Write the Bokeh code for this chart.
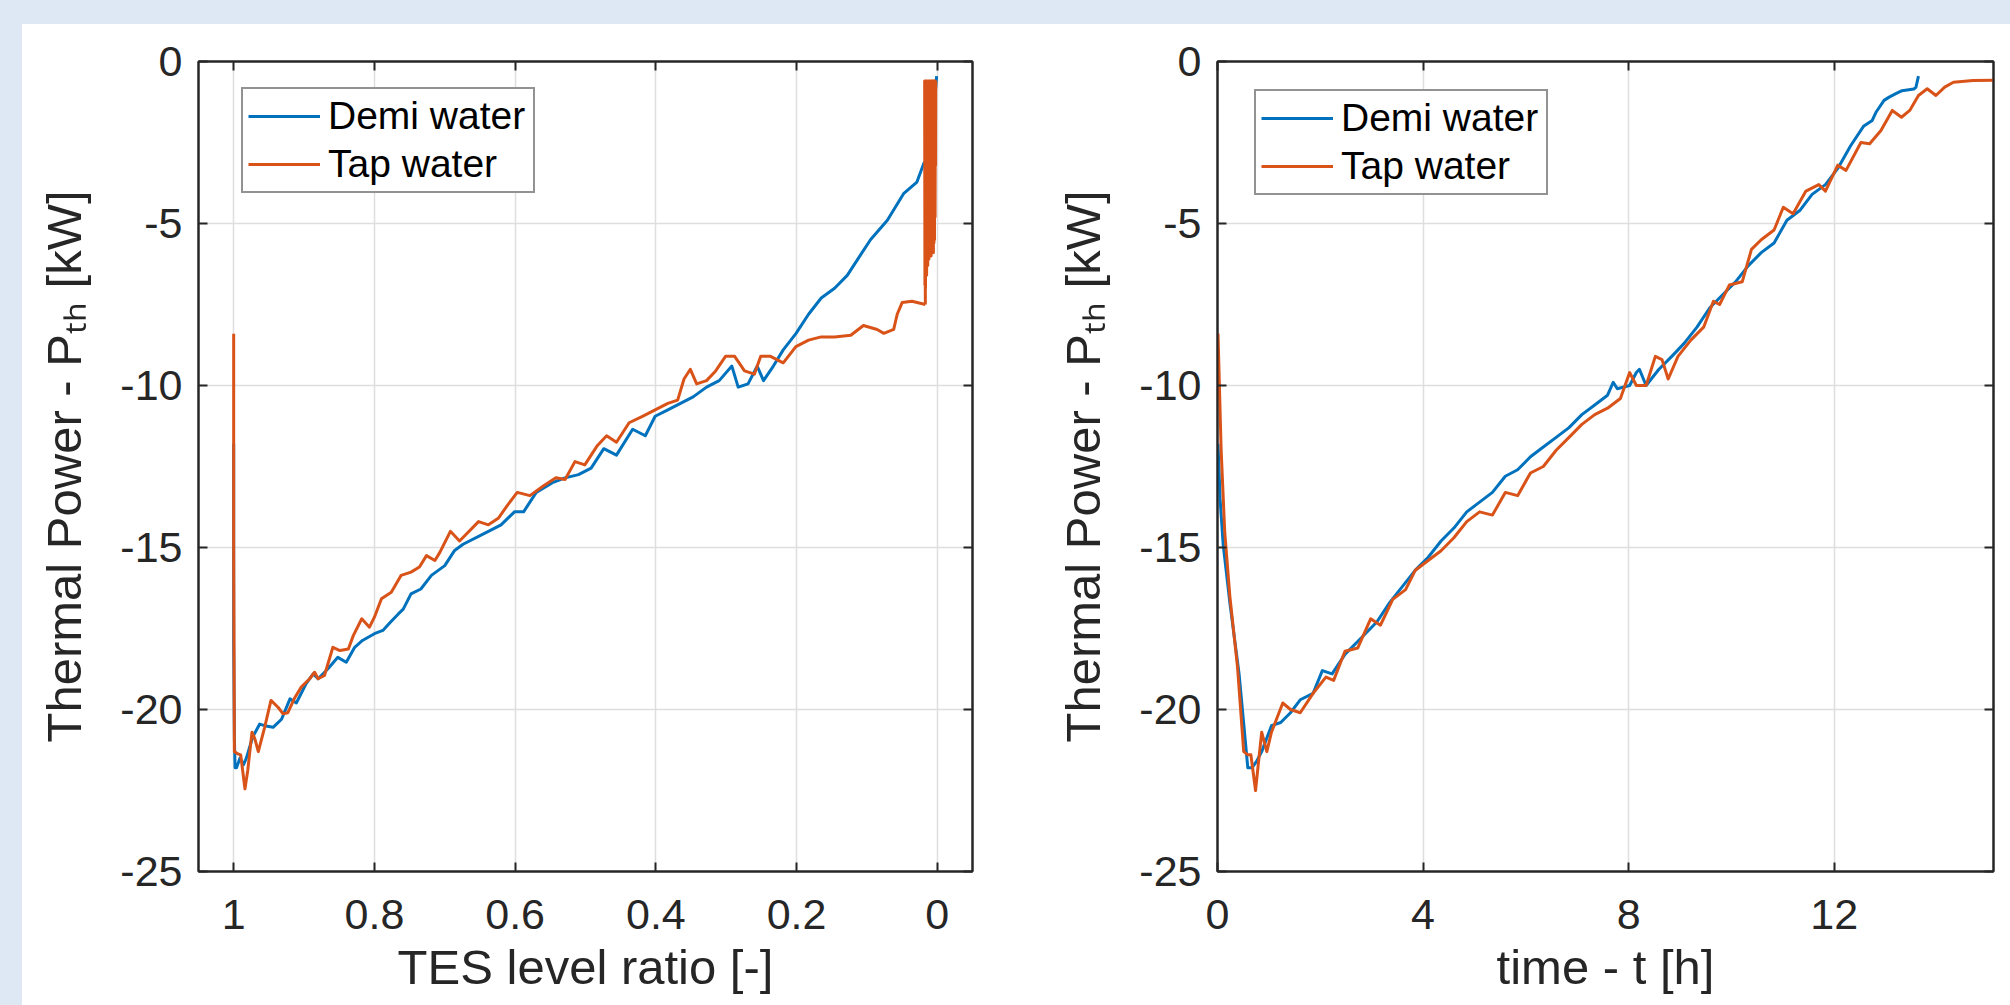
from bokeh.plotting import figure
from bokeh.models import (Range1d, FixedTicker, LinearAxis, CustomJSTickFormatter,
                          Legend, LegendItem, GlobalInlineStyleSheet)
from bokeh.layouts import row
from bokeh.embed import file_html
from bokeh.resources import INLINE

# ---------------- data ----------------
# Left panel: thermal power vs TES level ratio
demi_ratio = [1.000, 1.000, 0.999, 0.998, 0.996, 0.991, 0.986, 0.982, 0.973, 0.963, 0.956, 0.944,
              0.932, 0.920, 0.911, 0.897, 0.887, 0.880, 0.866, 0.852, 0.840, 0.828, 0.817, 0.800,
              0.788, 0.777, 0.766, 0.759, 0.748, 0.734, 0.719, 0.700, 0.686, 0.674, 0.638, 0.620,
              0.601, 0.588, 0.570, 0.547, 0.529, 0.510, 0.492, 0.474, 0.456, 0.433, 0.415, 0.401,
              0.383, 0.365, 0.347, 0.328, 0.310, 0.292, 0.283, 0.269, 0.256, 0.247, 0.233, 0.219,
              0.201, 0.183, 0.165, 0.146, 0.128, 0.110, 0.095, 0.071, 0.048, 0.029, 0.019, 0.010,
              0.004, 0.003, 0.001]
demi_power_l = [-11.8, -17.9, -20.9, -21.8, -21.8, -21.5, -21.7, -21.5, -20.85, -20.45, -20.5, -20.55,
                -20.3, -19.67, -19.8, -19.2, -18.9, -19.05, -18.74, -18.39, -18.54, -18.08, -17.87, -17.66,
                -17.56, -17.3, -17.05, -16.9, -16.43, -16.28, -15.86, -15.56, -15.09, -14.9, -14.5, -14.3,
                -13.9, -13.9, -13.3, -13.0, -12.85, -12.75, -12.55, -11.95, -12.15, -11.35, -11.55, -10.95,
                -10.75, -10.55, -10.35, -10.05, -9.85, -9.4, -10.05, -9.95, -9.4, -9.85, -9.4, -8.9,
                -8.4, -7.8, -7.3, -7.0, -6.6, -6.0, -5.5, -4.9, -4.08, -3.72, -3.13, -3.0,
                -2.0, -1.0, -0.45]

tap_ratio = [1.000, 1.000, 0.999, 0.994, 0.990, 0.984, 0.980, 0.974, 0.970, 0.965, 0.956, 0.947,
             0.937, 0.930, 0.923, 0.914, 0.904, 0.892, 0.885, 0.880, 0.871, 0.859, 0.849, 0.837,
             0.830, 0.818, 0.807, 0.800, 0.790, 0.776, 0.762, 0.748, 0.736, 0.726, 0.714, 0.707,
             0.692, 0.679, 0.652, 0.638, 0.624, 0.611, 0.597, 0.579, 0.560, 0.542, 0.529, 0.515,
             0.501, 0.483, 0.470, 0.456, 0.438, 0.419, 0.401, 0.383, 0.369, 0.360, 0.351, 0.342,
             0.328, 0.315, 0.301, 0.288, 0.274, 0.260, 0.251, 0.237, 0.219, 0.201, 0.183, 0.165,
             0.146, 0.123, 0.105, 0.0855, 0.076, 0.062, 0.057, 0.050, 0.036, 0.017]
tap_power_l = [-8.4, -15.0, -21.3, -21.37, -21.4, -22.45, -21.88, -20.7, -20.9, -21.3, -20.55, -19.72,
               -19.93, -20.13, -20.1, -19.67, -19.31, -19.05, -18.85, -19.05, -18.95, -18.08, -18.18, -18.13,
               -17.72, -17.2, -17.46, -17.15, -16.58, -16.38, -15.86, -15.76, -15.6, -15.25, -15.4, -15.15,
               -14.5, -14.8, -14.2, -14.3, -14.1, -13.7, -13.3, -13.4, -13.1, -12.85, -12.9, -12.35,
               -12.45, -11.85, -11.55, -11.75, -11.15, -10.95, -10.75, -10.55, -10.45, -9.8, -9.5, -9.95,
               -9.85, -9.55, -9.1, -9.1, -9.55, -9.65, -9.1, -9.1, -9.3, -8.8, -8.6, -8.5,
               -8.5, -8.45, -8.15, -8.27, -8.39, -8.27, -7.8, -7.44, -7.4, -7.5]

# rapidly oscillating end of the tap-water run (level ratio close to zero)
tap_band_ratio = [0.0170, 0.0180, 0.0176, 0.0172, 0.0168, 0.0164, 0.0160, 0.0156, 0.0152, 0.0148,
                  0.0144, 0.0140, 0.0136, 0.0132, 0.0128, 0.0124, 0.0120, 0.0116, 0.0112, 0.0108,
                  0.0104, 0.0100, 0.0096, 0.0092, 0.0088, 0.0084, 0.0080, 0.0076, 0.0072, 0.0068,
                  0.0064, 0.0060, 0.0056, 0.0052, 0.0048, 0.0044, 0.0040, 0.0036, 0.0032, 0.0028,
                  0.0025, 0.0023]
tap_band_power = [-7.5, -0.6, -6.9, -0.6, -7.0, -0.6, -6.2, -0.6, -6.6, -0.6,
                  -6.0, -0.6, -6.3, -0.6, -5.9, -0.6, -6.1, -0.6, -5.8, -0.6,
                  -6.0, -0.6, -5.9, -0.6, -6.0, -0.6, -5.8, -0.6, -5.9, -0.6,
                  -5.7, -0.6, -5.9, -0.6, -5.6, -0.6, -5.5, -0.6, -4.8, -0.6,
                  -3.2, -0.6]

# Right panel: thermal power vs time
demi_time = [0.01, 0.05, 0.11, 0.24, 0.42, 0.59, 0.67, 0.76, 0.86, 1.05, 1.23, 1.42, 1.61, 1.86,
             2.04, 2.23, 2.48, 2.79, 3.10, 3.35, 3.60, 3.85, 4.10, 4.35, 4.60, 4.85, 5.10, 5.35,
             5.60, 5.84, 6.09, 6.34, 6.59, 6.84, 7.09, 7.34, 7.59, 7.70, 7.78, 8.02, 8.15, 8.21,
             8.34, 8.59, 8.84, 9.08, 9.33, 9.58, 9.83, 10.08, 10.33, 10.58, 10.83, 11.08, 11.33,
             11.57, 11.83, 12.07, 12.32, 12.57, 12.74, 12.82, 12.97, 13.07, 13.19, 13.32, 13.55,
             13.59, 13.64]
demi_power_r = [-11.8, -13.5, -14.9, -16.7, -18.9, -21.8, -21.8, -21.6, -21.3, -20.5, -20.4, -20.1,
                -19.7, -19.5, -18.8, -18.9, -18.3, -17.8, -17.3, -16.7, -16.2, -15.7, -15.3, -14.8,
                -14.4, -13.9, -13.6, -13.3, -12.8, -12.6, -12.2, -11.9, -11.6, -11.3, -10.9, -10.6,
                -10.3, -9.9, -10.1, -10.0, -9.6, -9.5, -10.0, -9.5, -9.1, -8.7, -8.2, -7.6,
                -7.2, -6.8, -6.3, -5.9, -5.6, -4.9, -4.6, -4.1, -3.8, -3.3, -2.6, -2.0,
                -1.82, -1.55, -1.2, -1.1, -1.0, -0.9, -0.85, -0.8, -0.45]

tap_time = [0.01, 0.07, 0.14, 0.24, 0.39, 0.51, 0.59, 0.65, 0.74, 0.86, 0.96, 1.05, 1.27, 1.42,
            1.61, 1.86, 2.11, 2.26, 2.48, 2.73, 2.98, 3.17, 3.41, 3.66, 3.85, 4.10, 4.35, 4.60,
            4.85, 5.10, 5.35, 5.60, 5.84, 6.09, 6.34, 6.59, 6.84, 7.09, 7.34, 7.59, 7.84, 8.02,
            8.15, 8.34, 8.52, 8.65, 8.77, 8.96, 9.21, 9.46, 9.65, 9.77, 9.96, 10.21, 10.39, 10.58,
            10.83, 11.01, 11.20, 11.45, 11.70, 11.83, 12.07, 12.23, 12.52, 12.69, 12.91, 13.13,
            13.31, 13.47, 13.64, 13.81, 13.98, 14.15, 14.32, 14.70, 15.10]
tap_power_r = [-8.4, -11.95, -14.5, -16.5, -18.7, -21.3, -21.4, -21.4, -22.5, -20.7, -21.3, -20.7,
               -19.8, -20.0, -20.1, -19.5, -19.0, -19.1, -18.2, -18.1, -17.2, -17.4, -16.6, -16.3,
               -15.7, -15.4, -15.1, -14.7, -14.2, -13.9, -14.0, -13.3, -13.4, -12.7, -12.5, -12.0,
               -11.6, -11.2, -10.9, -10.7, -10.4, -9.6, -10.0, -10.0, -9.1, -9.2, -9.8, -9.1,
               -8.6, -8.2, -7.4, -7.5, -6.9, -6.8, -5.8, -5.5, -5.2, -4.5, -4.7, -4.0,
               -3.8, -4.0, -3.2, -3.36, -2.5, -2.54, -2.13, -1.51, -1.72, -1.51, -1.05, -0.84,
               -1.05, -0.79, -0.64, -0.59, -0.58]

power_ticks = [-25, -20, -15, -10, -5, 0]
ratio_ticks = [1.0, 0.8, 0.6, 0.4, 0.2, 0.0]
time_ticks = [0, 4, 8, 12]

y_title = "Thermal Power - P\u209c\u2095 [kW]"
x_title_left = "TES level ratio [-]"
x_title_right = "time - t [h]"

# ---------------- style ----------------
BLUE = "#0072BD"
ORANGE = "#D95319"
DARK = "#262626"
GRID = "#dedede"
FONT = "Liberation Sans"
TICK_FS = "43px"
TITLE_FS = "49px"
LW = 3

num_fmt = CustomJSTickFormatter(code="return String(Math.round(tick*10)/10)")
blank_fmt = CustomJSTickFormatter(code="return ''")


def make_fig(x_range, xticks, min_right, frame_w, margin, xtitle):
    p = figure(frame_width=frame_w, frame_height=810, x_range=x_range,
               y_range=Range1d(-25, 0), output_backend="svg", toolbar_location=None,
               min_border_left=176, min_border_right=min_right,
               min_border_top=37, min_border_bottom=126, margin=margin,
               border_fill_color="white", background_fill_color="white",
               outline_line_color=DARK, outline_line_width=2)
    p.xaxis.ticker = FixedTicker(ticks=xticks)
    p.yaxis.ticker = FixedTicker(ticks=power_ticks)
    p.xaxis.formatter = num_fmt
    p.yaxis.formatter = num_fmt
    p.add_layout(LinearAxis(ticker=FixedTicker(ticks=xticks), formatter=blank_fmt), "above")
    p.add_layout(LinearAxis(ticker=FixedTicker(ticks=power_ticks), formatter=blank_fmt), "right")
    for ax in p.axis:
        ax.axis_line_color = DARK
        ax.axis_line_width = 2
        ax.major_tick_line_color = DARK
        ax.major_tick_line_width = 2
        ax.major_tick_in = 9
        ax.major_tick_out = 0
        ax.minor_tick_line_color = None
        ax.major_label_text_font = FONT
        ax.major_label_text_color = DARK
        ax.axis_label_text_font = FONT
        ax.axis_label_text_font_style = "normal"
        ax.axis_label_text_color = DARK
        ax.axis_label_text_font_size = TITLE_FS
    for ax in p.above + p.right:
        ax.major_label_text_font_size = "1px"
        ax.major_label_standoff = 0
    bx = p.below[0]
    bx.major_label_text_font_size = TICK_FS
    bx.major_label_standoff = 28
    bx.axis_label = xtitle
    bx.axis_label_standoff = 8
    ly = p.left[0]
    ly.major_label_text_font_size = TICK_FS
    ly.major_label_standoff = 16
    ly.axis_label = y_title
    ly.axis_label_standoff = 26
    p.xgrid.ticker = FixedTicker(ticks=xticks)
    p.ygrid.ticker = FixedTicker(ticks=power_ticks)
    for g in (p.xgrid, p.ygrid):
        g.grid_line_color = GRID
        g.grid_line_width = 1.5
    return p


def add_legend(p, r1, r2, loc):
    leg = Legend(items=[LegendItem(label="Demi water", renderers=[r1]),
                        LegendItem(label="Tap water", renderers=[r2])],
                 location=loc, border_line_color=DARK, border_line_width=2,
                 background_fill_color="white", background_fill_alpha=1.0,
                 label_text_font=FONT, label_text_font_size="39px", label_text_color="black",
                 glyph_width=72, glyph_height=44, label_height=44, label_width=200,
                 label_standoff=8, spacing=4, padding=5, margin=0)
    p.add_layout(leg)


# ---------------- left panel ----------------
p1 = make_fig(Range1d(1.05, -0.05), ratio_ticks, 69, 774, (24, 0, 0, 22), x_title_left)
r_demi_l = p1.line(demi_ratio, demi_power_l, line_color=BLUE, line_width=LW, line_join="round")
r_tap_l = p1.line(tap_ratio, tap_power_l, line_color=ORANGE, line_width=LW, line_join="round")
p1.line(tap_band_ratio, tap_band_power, line_color=ORANGE, line_width=LW, line_join="round")
add_legend(p1, r_demi_l, r_tap_l, (43, 678))

# ---------------- right panel ----------------
p2 = make_fig(Range1d(0, 15.1), time_ticks, 17, 776, (24, 0, 0, 0), x_title_right)
r_demi_r = p2.line(demi_time, demi_power_r, line_color=BLUE, line_width=LW, line_join="round")
r_tap_r = p2.line(tap_time, tap_power_r, line_color=ORANGE, line_width=LW, line_join="round")
add_legend(p2, r_demi_r, r_tap_r, (37, 676))

css = GlobalInlineStyleSheet(css=(
    "html { overflow: hidden; background: "
    "linear-gradient(to right, #dde8f4 22px, rgba(0,0,0,0) 22px), "
    "linear-gradient(to bottom, #dde8f4 24px, #ffffff 24px); } "
    "body { margin: 0; overflow: hidden; background: transparent; }"))

layout = row(p1, p2, stylesheets=[css])

open("out.html", "w").write(file_html(layout, INLINE))
